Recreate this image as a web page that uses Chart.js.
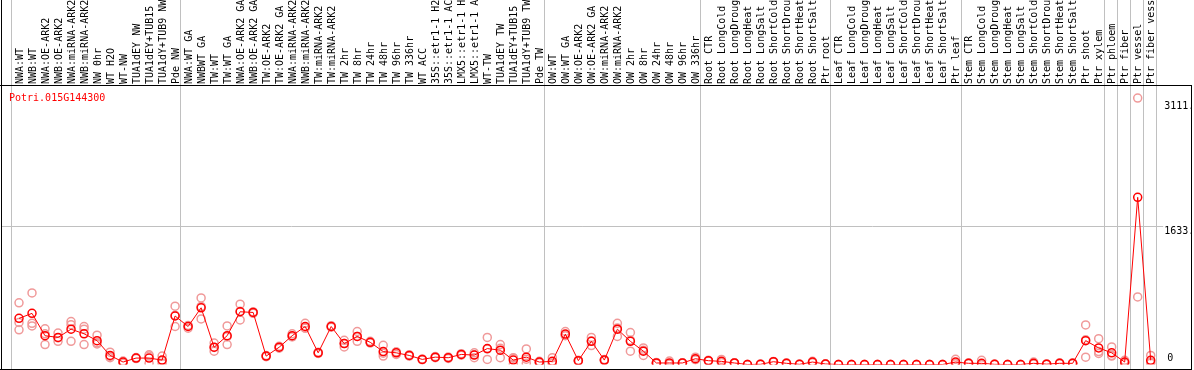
<!DOCTYPE html>
<html>
<head>
<meta charset="utf-8">
<script src="https://cdn.jsdelivr.net/npm/chart.js@4"></script>
<style>
  body { margin: 0; background: #fff; }
  #wrap { width: 1194px; height: 370px; }
</style>
</head>
<body>
<div id="wrap"><canvas id="expr-chart"></canvas></div>
<script>
var geneName = "Potri.015G144300";

var categories = [
  "NWA:WT", "NWB:WT", "NWA:OE-ARK2", "NWB:OE-ARK2", "NWA:miRNA-ARK2", "NWB:miRNA-ARK2",
  "NW 0hr", "WT H2O", "WT-NW", "TUA1dEY NW", "TUA1dEY+TUB15", "TUA1dY+TUB9 NW", "Pde NW",
  "NWA:WT GA", "NWBWT GA", "TW:WT", "TW:WT GA", "NWA:OE-ARK2 GA", "NWB:OE-ARK2 GA",
  "TW:OE-ARK2", "TW:OE-ARK2 GA", "NWA:miRNA-ARK2", "NWB:miRNA-ARK2", "TW:miRNA-ARK2",
  "TW:miRNA-ARK2", "TW 2hr", "TW 8hr", "TW 24hr", "TW 48hr", "TW 96hr", "TW 336hr",
  "WT ACC", "35S::etr1-1 H2", "35S::etr1-1 AC", "LMX5::etr1-1 H", "LMX5::etr1-1 A",
  "WT-TW", "TUA1dEY TW", "TUA1dEY+TUB15", "TUA1dY+TUB9 TW", "Pde TW",
  "OW:WT", "OW:WT GA", "OW:OE-ARK2", "OW:OE-ARK2 GA", "OW:miRNA-ARK2", "OW:miRNA-ARK2",
  "OW 2hr", "OW 8hr", "OW 24hr", "OW 48hr", "OW 96hr", "OW 336hr",
  "Root CTR", "Root LongCold", "Root LongDroug", "Root LongHeat", "Root LongSalt",
  "Root ShortCold", "Root ShortDrou", "Root ShortHeat", "Root ShortSalt", "Ptr root",
  "Leaf CTR", "Leaf LongCold", "Leaf LongDroug", "Leaf LongHeat", "Leaf LongSalt",
  "Leaf ShortCold", "Leaf ShortDrou", "Leaf ShortHeat", "Leaf ShortSalt", "Ptr leaf",
  "Stem CTR", "Stem LongCold", "Stem LongDroug", "Stem LongHeat", "Stem LongSalt",
  "Stem ShortCold", "Stem ShortDrou", "Stem ShortHeat", "Stem ShortSalt", "Ptr shoot",
  "Ptr xylem", "Ptr phloem", "Ptr fiber", "Ptr vessel", "Ptr fiber vess"
];

// index of the last category in each group (-1 = leading line)
var groupEnds = [-1, 12, 40, 52, 62, 72, 83, 84, 85, 86, 87];

var meanValues = [
  545, 604, 340, 320, 417, 363, 282, 107, 29, 76, 76, 52, 573,
  449, 670, 204, 340, 623, 615, 99, 204, 340, 449, 138, 449, 247, 332, 262, 153, 138,
  107, 60, 87, 80, 119, 111, 188, 169, 52, 87, 29,
  37, 359, 45, 274, 52, 417, 274, 157, 18, 18, 18, 68,
  45, 37, 18, 0, 2, 33, 14, 2, 29, 6,
  0, 0, 0, 0, 0, 0, 0, 0, 0, 29,
  14, 14, 2, 0, 0, 14, 4, 14, 14, 282, 196,
  138, 29, 1975, 50
];

var rep1 = [
  728, 845, 421, 371, 507, 449, 347, 146, 14, 76, 114, 99, 689,
  429, 786, 254, 456, 713, 604, 99, 204, 363, 487, 138, 449, 285, 390, 274, 227, 119,
  107, 60, 87, 80, 119, 138, 320, 235, 80, 184, 29,
  80, 390, 45, 320, 52, 487, 378, 196, 18, 41, 18, 87,
  45, 60, 18, 0, 4, 33, 14, 2, 37, 6,
  0, 0, 0, 0, 0, 0, 0, 0, 0, 61,
  14, 50, 2, 0, 0, 29, 4, 14, 14, 468, 305,
  208, 50, 3147, 107
];

var rep2 = [
  410, 487, 235, 274, 274, 417, 243, 80, 40, 70, 14, 14, 449,
  460, 538, 157, 235, 526, 620, 105, 215, 330, 430, 130, 440, 208, 274, 256, 99, 148,
  100, 55, 80, 72, 110, 80, 60, 80, 2, 14, 20,
  15, 340, 40, 223, 45, 332, 157, 107, 12, 6, 14, 60,
  40, 25, 14, 0, 0, 30, 10, 0, 25, 4,
  0, 0, 0, 0, 0, 0, 0, 0, 0, 10,
  10, 0, 0, 0, 0, 5, 2, 10, 10, 87, 130,
  107, 18, 798, 29
];

var rep3 = [
  497, 456, 363, 315, 470, 235, 256, 95, 33, 82, 100, 43, 581,
  458, 686, 201, 329, 630, 621, 93, 193, 327, 430, 146, 458, 248, 332, 256, 133, 147,
  114, 65, 94, 88, 128, 115, 184, 192, 74, 63, 38,
  16, 347, 50, 279, 59, 432, 287, 168, 24, 7, 22, 57,
  50, 26, 22, 0, 2, 36, 18, 4, 25, 8,
  0, 0, 0, 0, 0, 0, 0, 0, 0, 16,
  18, 0, 4, 0, 0, 8, 6, 18, 18, 291, 153,
  99, 19, null, 14
];

var yTicks = [0, 1633, 3111];
var yTickLabels = ["0", "1633.", "3111."];

var monoFont = "'DejaVu Sans Mono', 'Liberation Mono', monospace";

var framePlugin = {
  id: "frame",
  beforeDatasetsDraw: function(chart) {
    var ctx = chart.ctx;
    var x = chart.scales.x;
    var y = chart.scales.y;
    var area = chart.chartArea;
    ctx.save();
    ctx.strokeStyle = "#c0c0c0";
    ctx.lineWidth = 1;
    // group separators
    groupEnds.forEach(function(i) {
      var px = Math.round(x.getPixelForValue(i) + 5) + 0.5;
      ctx.beginPath();
      ctx.moveTo(px, 0);
      ctx.lineTo(px, chart.height);
      ctx.stroke();
    });
    // middle gridline
    var gy = Math.round(y.getPixelForValue(yTicks[1])) + 0.5;
    ctx.beginPath();
    ctx.moveTo(1, gy);
    ctx.lineTo(area.right + 6, gy);
    ctx.stroke();
    ctx.restore();
  },
  afterDraw: function(chart) {
    var ctx = chart.ctx;
    var y = chart.scales.y;
    var area = chart.chartArea;
    var right = chart.width - 2;
    ctx.save();
    ctx.strokeStyle = "#000";
    ctx.lineWidth = 1;
    ctx.beginPath();
    ctx.moveTo(1.5, 0);
    ctx.lineTo(1.5, chart.height);
    ctx.moveTo(0, area.top - 0.5);
    ctx.lineTo(right, area.top - 0.5);
    ctx.moveTo(right - 0.5, area.top - 0.5);
    ctx.lineTo(right - 0.5, chart.height);
    ctx.moveTo(0, chart.height - 0.5);
    ctx.lineTo(right, chart.height - 0.5);
    ctx.stroke();

    ctx.font = "10px " + monoFont;
    ctx.textBaseline = "middle";
    ctx.textAlign = "left";
    ctx.fillStyle = "#000";
    yTicks.forEach(function(v, k) {
      var py = y.getPixelForValue(v);
      var lx = area.right + 7;
      if (v === 0) {
        ctx.fillText(yTickLabels[k], lx + 3, py - 6.5);
      } else {
        ctx.fillText(yTickLabels[k], lx, py + 5);
      }
    });

    ctx.fillStyle = "#ff0000";
    ctx.textBaseline = "alphabetic";
    ctx.fillText(geneName, area.left - 3.5, area.top + 15);
    ctx.restore();
  }
};

function repSet(values) {
  return {
    type: "line",
    data: values,
    showLine: false,
    pointStyle: "circle",
    pointRadius: 4,
    pointBorderWidth: 1.5,
    pointBorderColor: "#f09a9a",
    pointBackgroundColor: "rgba(0,0,0,0)",
    order: 2
  };
}

var chartCanvas = document.getElementById("expr-chart").getContext("2d");
var exprChart = new Chart(chartCanvas, {
  type: "line",
  data: {
    labels: categories,
    datasets: [
      {
        data: meanValues,
        borderColor: "#ff0000",
        borderWidth: 1,
        tension: 0,
        pointStyle: "circle",
        pointRadius: 4,
        pointBorderWidth: 1.5,
        pointBorderColor: "#ff0000",
        pointBackgroundColor: "rgba(0,0,0,0)",
        order: 1
      },
      repSet(rep1),
      repSet(rep2),
      repSet(rep3)
    ]
  },
  options: {
    responsive: true,
    maintainAspectRatio: false,
    animation: false,
    layout: {
      padding: { left: 12.5, right: 36.8, top: 0, bottom: 1.5 }
    },
    scales: {
      x: {
        type: "category",
        position: "top",
        offset: true,
        grid: { display: false, drawTicks: false },
        border: { display: false },
        ticks: {
          autoSkip: false,
          minRotation: 90,
          maxRotation: 90,
          padding: 2,
          labelOffset: 13,
          color: "#000",
          font: { family: monoFont, size: 10 }
        },
        afterFit: function(scale) {
          scale.height = 86;
        }
      },
      y: {
        display: false,
        min: 0,
        max: 3290
      }
    },
    plugins: {
      legend: { display: false },
      tooltip: { enabled: false }
    }
  },
  plugins: [framePlugin]
});
</script>
</body>
</html>
